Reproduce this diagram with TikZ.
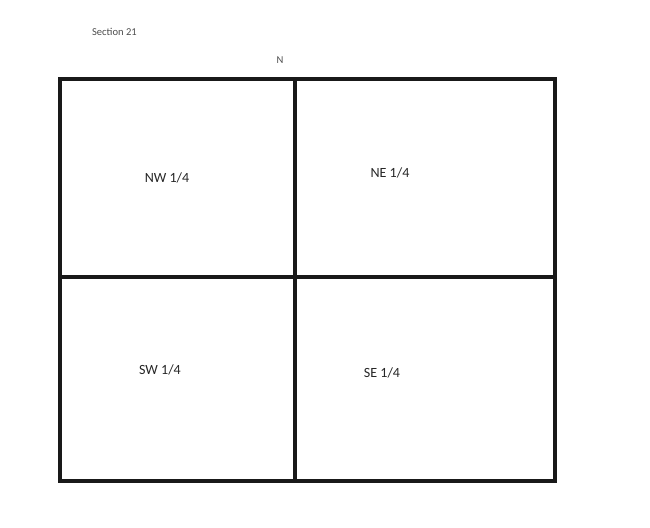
\documentclass[tikz,border=0pt]{standalone}
\usepackage{fontspec}
\setmainfont{Carlito}
\begin{document}
\begin{tikzpicture}[x=0.03cm,y=-0.03cm,
  quarter/.style={font=\large,text=black!85},
  grid/.style={line width=3pt,draw=black!90}]
\useasboundingbox (0,0) rectangle (650,527);
\node[font=\small,text=black!70,anchor=west] (title) at (88,32) {Section 21};
\node[font=\small,text=black!70] (north) at (280,60) {N};
\coordinate (nw) at (60,79);
\coordinate (se) at (555,481);
\draw[grid] (nw) rectangle (se);
\draw[grid] (295,79) -- (295,481);
\draw[grid] (60,277) -- (555,277);
\node[quarter] (qnw) at (167,178) {NW 1/4};
\node[quarter] (qne) at (390,173) {NE 1/4};
\node[quarter] (qsw) at (160,370) {SW 1/4};
\node[quarter] (qse) at (382,373) {SE 1/4};
\end{tikzpicture}
\end{document}
